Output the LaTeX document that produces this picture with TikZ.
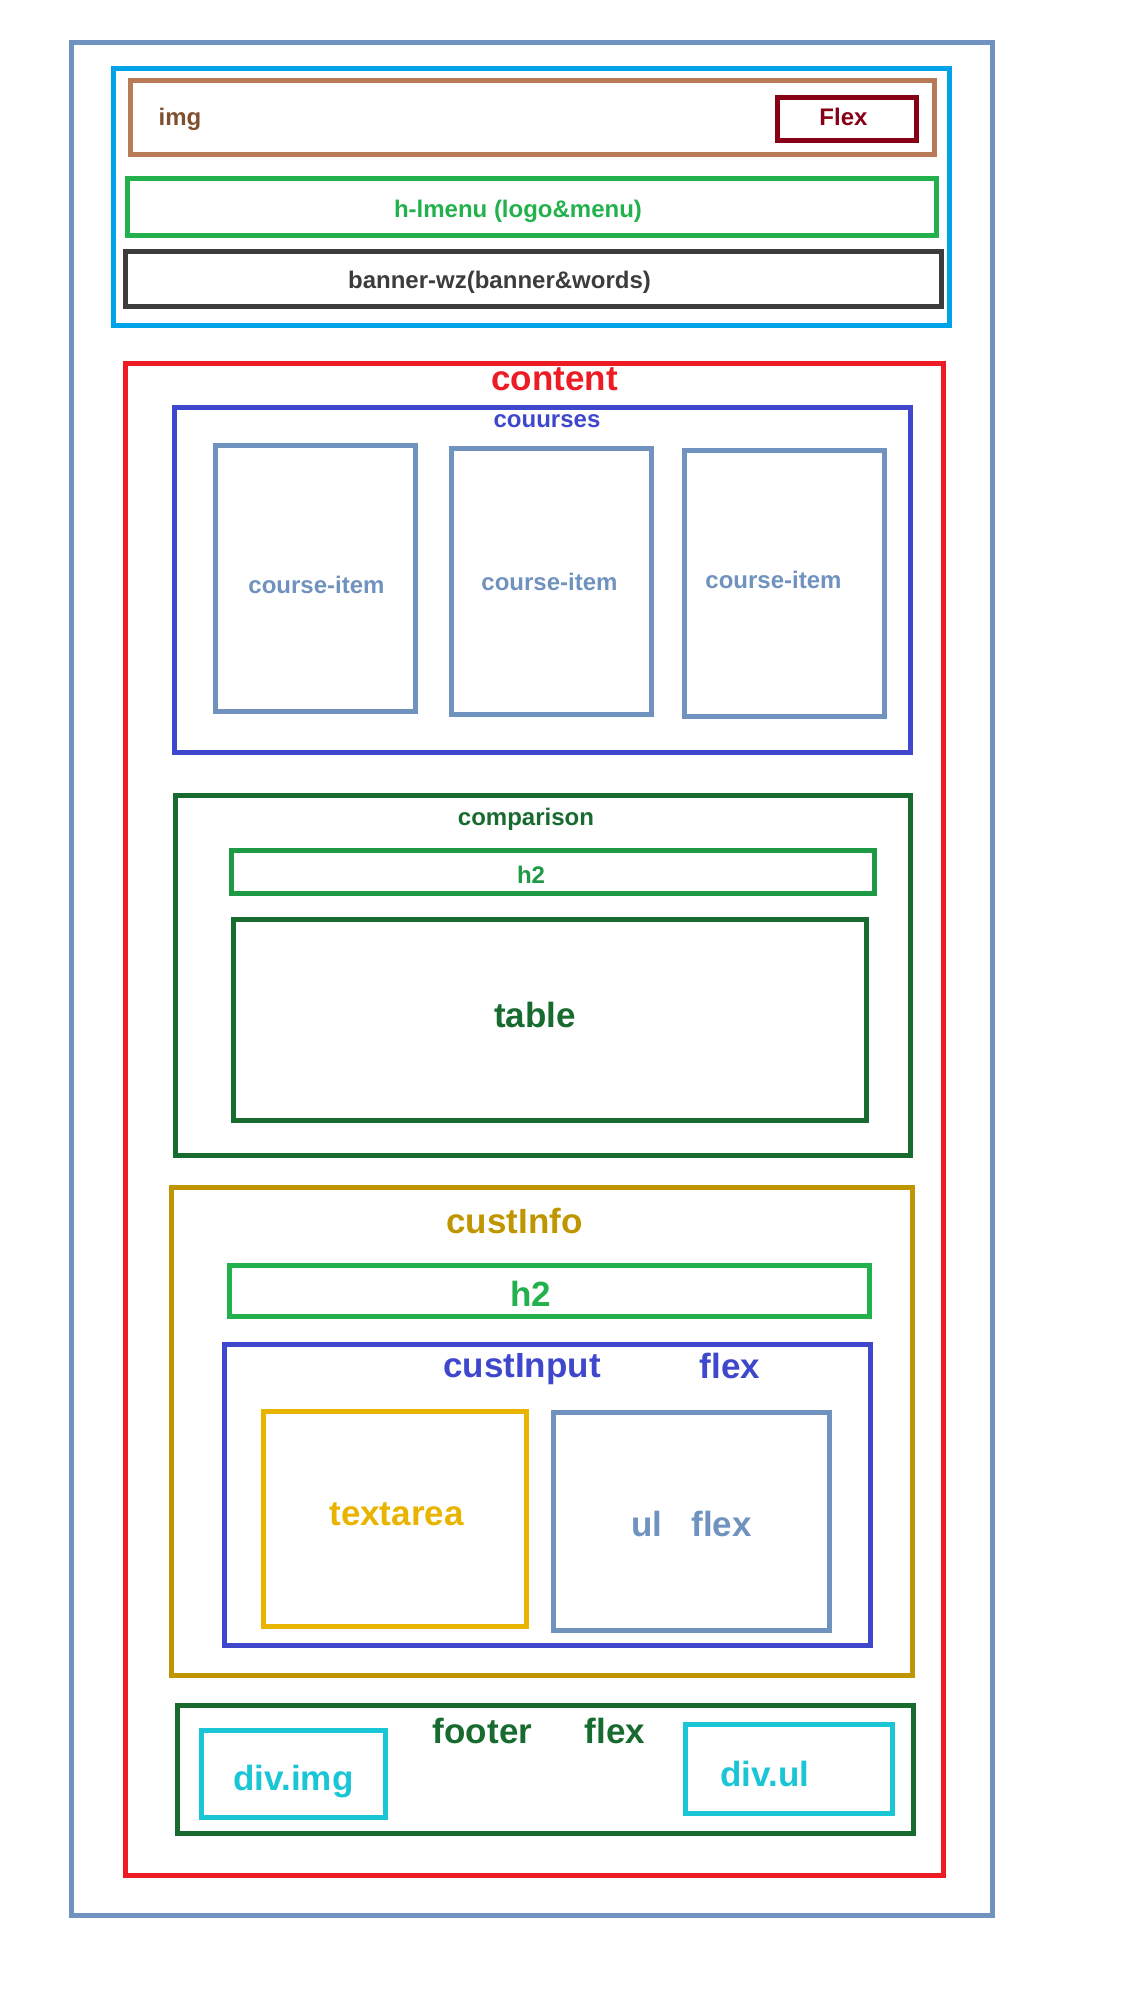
\documentclass[tikz,border=0pt]{standalone}
\usepackage{fontspec}
\setmainfont{Liberation Sans}
\definecolor{pagec}{HTML}{7092BE}
\definecolor{headc}{HTML}{00A2E8}
\definecolor{imgc}{HTML}{B97A57}
\definecolor{imgtxt}{HTML}{7F4F2F}
\definecolor{flexc}{HTML}{880015}
\definecolor{menuc}{HTML}{22B14C}
\definecolor{bannerc}{HTML}{3C3C3C}
\definecolor{contentc}{HTML}{ED1C24}
\definecolor{coursec}{HTML}{3F48CC}
\definecolor{itemc}{HTML}{7092BE}
\definecolor{darkgc}{HTML}{176B2F}
\definecolor{midgc}{HTML}{1E9A46}
\definecolor{infoc}{HTML}{C09600}
\definecolor{areac}{HTML}{E8B400}
\definecolor{cyanc}{HTML}{1AC6D5}
\tikzstyle{wbox}=[draw,line width=5pt]
\tikzstyle{tag}=[anchor=base,inner sep=0pt,font=\bfseries\fontsize{24}{28}\selectfont]
\tikzstyle{bigtag}=[anchor=base,inner sep=0pt,font=\bfseries\fontsize{35}{40}\selectfont]
\begin{document}
\begin{tikzpicture}[x=1pt,y=-1pt]
    \useasboundingbox (0,0) rectangle (1120,2016);
    % First we draw the boxes of the page
    \foreach \from/\to/\col in {{(71,42)/(992.5,1915.5)/pagec}, {(113.5,68.5)/(949.5,325.5)/headc},
        {(130.5,80.5)/(934.5,154.5)/imgc}, {(777.5,97.5)/(916.5,140.5)/flexc},
        {(127.5,178.5)/(936.5,235)/menuc}, {(125.5,251.5)/(941.5,306.5)/bannerc},
        {(125.5,363)/(943.5,1875)/contentc}, {(174,407.5)/(910.5,752.5)/coursec},
        {(215.5,445.5)/(415.5,711.5)/itemc}, {(451.5,448.5)/(651.5,714.5)/itemc}, {(684.5,450.5)/(884.5,716.5)/itemc},
        {(175,795)/(910,1155)/darkgc}, {(231,850)/(874,893.5)/midgc}, {(233,919.5)/(866,1120)/darkgc},
        {(171.5,1187.5)/(912.5,1675)/infoc}, {(229.5,1265.5)/(869.5,1316.5)/menuc},
        {(224.5,1344.5)/(870.5,1645)/coursec}, {(263.5,1411.5)/(526.5,1626.5)/areac}, {(553.5,1412.5)/(829.5,1630.5)/itemc},
        {(177.5,1705.5)/(913.5,1833)/darkgc}, {(201.5,1730.5)/(385.5,1817)/cyanc}, {(685,1724.5)/(892.5,1813)/cyanc}}
        \draw[wbox,draw=\col] \from rectangle \to;

    % Then the small texts
    \foreach \pos/\name/\txt/\col in {{(180,125)/img/img/imgtxt}, {(843.5,125)/flex/Flex/flexc},
        {(518,217)/menu/h-lmenu (logo\&menu)/menuc}, {(499.5,288)/banner/banner-wz(banner\&words)/bannerc},
        {(547,427)/courses/couurses/coursec}, {(316.5,593)/item1/course-item/itemc},
        {(549.5,590)/item2/course-item/itemc}, {(773.5,588)/item3/course-item/itemc},
        {(526,825)/comparison/comparison/darkgc}, {(531,883)/h2a/h2/midgc}}
        \node[tag,text=\col] (\name) at \pos {\txt};

    % And the big ones
    \foreach \pos/\name/\txt/\col in {{(554.5,390)/content/content/contentc}, {(535,1027)/table/table/darkgc},
        {(514.5,1233)/custInfo/custInfo/infoc}, {(531,1306)/h2b/h2/menuc},
        {(522,1377)/custInput/custInput/coursec}, {(730,1378)/flexa/flex/coursec},
        {(396.5,1525)/textarea/textarea/areac}, {(691.5,1536)/ul/ul~~~flex/itemc},
        {(482.5,1743)/footer/footer/darkgc}, {(615,1743)/flexb/flex/darkgc},
        {(293.5,1790)/divimg/div.img/cyanc}, {(765,1786)/divul/div.ul/cyanc}}
        \node[bigtag,text=\col] (\name) at \pos {\txt};
\end{tikzpicture}
\end{document}
